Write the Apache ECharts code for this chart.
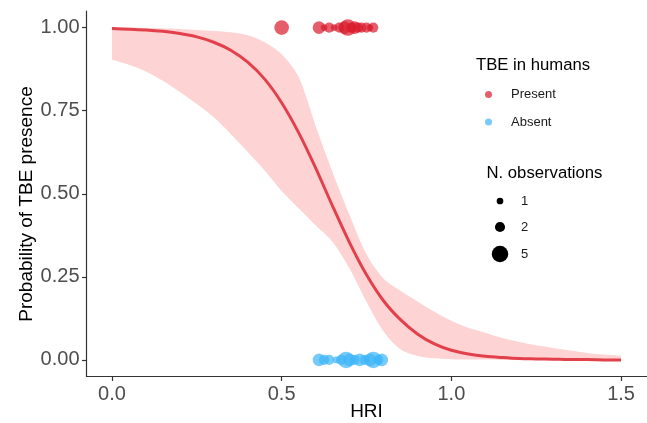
<!DOCTYPE html>
<html>
<head>
<meta charset="utf-8">
<script src="https://cdn.jsdelivr.net/npm/echarts@6.0.0/dist/echarts.min.js"></script>
<style>
  html, body { margin: 0; padding: 0; background: #fff; }
  #chart { width: 647px; height: 423px; }
</style>
</head>
<body>
<div id="chart"></div>
<script>
// HRI grid of the fitted curve
const hri = [0, 0.05, 0.1, 0.15, 0.2, 0.25, 0.3, 0.35, 0.4, 0.45, 0.5, 0.55, 0.6, 0.65, 0.7, 0.75,
             0.8, 0.85, 0.9, 0.95, 1, 1.05, 1.1, 1.15, 1.2, 1.25, 1.3, 1.35, 1.4, 1.45, 1.5];
// fitted probability and its confidence band
const fitProb = [0.997, 0.995, 0.993, 0.989, 0.982, 0.972, 0.956, 0.932, 0.896, 0.845, 0.774, 0.684, 0.578, 0.463, 0.353, 0.256,
                 0.178, 0.121, 0.078, 0.048, 0.029, 0.018, 0.011, 0.007, 0.004, 0.003, 0.002, 0.001, 0.001, 0, 0];
const ciLower = [0.903, 0.888, 0.868, 0.840, 0.806, 0.770, 0.730, 0.680, 0.626, 0.570, 0.508, 0.456, 0.405, 0.355, 0.275, 0.175,
                 0.086, 0.032, 0.012, 0.005, 0.002, 0.001, 0.001, 0, 0, 0, 0, 0, 0, 0, 0];
const ciUpper = [1, 1, 0.999, 0.998, 0.996, 0.993, 0.990, 0.986, 0.977, 0.956, 0.920, 0.852, 0.705, 0.565, 0.436, 0.318,
                 0.245, 0.208, 0.176, 0.145, 0.118, 0.097, 0.082, 0.066, 0.054, 0.044, 0.036, 0.028, 0.021, 0.016, 0.012];

// observations: HRI and number of observations
const presentHri   = [0.50, 0.61, 0.625, 0.64, 0.655, 0.67, 0.685, 0.695, 0.705, 0.715, 0.725, 0.735, 0.75, 0.76, 0.77];
const presentCount = [4, 3, 1, 2, 1, 2, 3, 5, 2, 3, 2, 2, 2, 1, 2];
const absentHri    = [0.61, 0.625, 0.64, 0.66, 0.675, 0.69, 0.70, 0.715, 0.73, 0.745, 0.76, 0.77, 0.785, 0.795];
const absentCount  = [3, 2, 2, 1, 2, 5, 3, 2, 3, 2, 3, 5, 2, 3];

const xTicks = [0, 0.5, 1, 1.5];
const yTicks = [0, 0.25, 0.5, 0.75, 1];
const sizeLegend = [1, 2, 5];

const FONT = '"Liberation Sans", Arial, sans-serif';
const sizeOf = n => Math.sqrt(57 * n - 12);

const chart = echarts.init(document.getElementById('chart'));

// band drawn as a stacked area: data kept as [prob, hri] so the stack runs on y
const bandLow = hri.map((x, i) => [ciLower[i], x]);
const bandWidth = hri.map((x, i) => [ciUpper[i] - ciLower[i], x]);

// legend for the point sizes
const sizeRows = [201, 227, 254];
const sizeItems = [];
sizeLegend.forEach((n, i) => {
    sizeItems.push({ type: 'circle', id: 'sz' + n, shape: { cx: 500, cy: sizeRows[i], r: sizeOf(n) / 2 }, style: { fill: '#000' } });
    sizeItems.push({ type: 'text', id: 'szt' + n, x: 521, y: sizeRows[i],
        style: { text: String(n), fontSize: 13, fill: '#1a1a1a', fontFamily: FONT, verticalAlign: 'middle' } });
});

chart.setOption({
    animation: false,
    textStyle: { fontFamily: FONT },
    grid: { left: 86.5, right: 0.5, top: 11, bottom: 46.5, containLabel: false, outerBoundsMode: 'none' },
    xAxis: {
        type: 'value',
        min: -0.075,
        max: 1.575,
        name: 'HRI',
        nameLocation: 'middle',
        nameGap: 26,
        nameMoveOverlap: false,
        nameTextStyle: { fontSize: 19, color: '#000', fontFamily: FONT },
        axisLine: { onZero: false, lineStyle: { color: '#333', width: 1.2 } },
        axisTick: { customValues: xTicks, length: 4.5, lineStyle: { color: '#333', width: 1.2 } },
        axisLabel: { customValues: xTicks, formatter: v => v.toFixed(1), fontSize: 20, color: '#4d4d4d', margin: 8 },
        splitLine: { show: false }
    },
    yAxis: {
        type: 'value',
        min: -0.05,
        max: 1.05,
        axisLine: { onZero: false, lineStyle: { color: '#333', width: 1.2 } },
        axisTick: { customValues: yTicks, length: 4.5, lineStyle: { color: '#333', width: 1.2 } },
        axisLabel: { customValues: yTicks, formatter: v => v.toFixed(2), fontSize: 20, color: '#4d4d4d', margin: 7 },
        splitLine: { show: false }
    },
    legend: {
        data: ['Present', 'Absent'],
        orient: 'vertical',
        left: 485,
        top: 88,
        padding: 0,
        icon: 'circle',
        itemWidth: 7,
        itemHeight: 7,
        itemGap: 14.5,
        textStyle: { fontSize: 13, color: '#1a1a1a', padding: [0, 0, 0, 14], fontFamily: FONT }
    },
    graphic: {
        elements: [
            { type: 'text', id: 'ytitle', x: 27, y: 204, rotation: Math.PI / 2,
              style: { text: 'Probability of TBE presence', fontSize: 19, fill: '#000', fontFamily: FONT, align: 'center', verticalAlign: 'middle' } },
            { type: 'text', id: 'colTitle', x: 476, y: 65,
              style: { text: 'TBE in humans', fontSize: 16.7, fill: '#000', fontFamily: FONT, verticalAlign: 'middle' } },
            { type: 'text', id: 'sizeTitle', x: 486.5, y: 173,
              style: { text: 'N. observations', fontSize: 16.7, fill: '#000', fontFamily: FONT, verticalAlign: 'middle' } }
        ].concat(sizeItems)
    },
    series: [
        {
            name: 'ciLow',
            type: 'line',
            data: bandLow,
            encode: { x: 1, y: 0 },
            stack: 'band',
            smooth: 0.3,
            symbol: 'none',
            lineStyle: { opacity: 0 },
            silent: true
        },
        {
            name: 'ciBand',
            type: 'line',
            data: bandWidth,
            encode: { x: 1, y: 0 },
            stack: 'band',
            smooth: 0.3,
            symbol: 'none',
            lineStyle: { opacity: 0 },
            areaStyle: { color: '#fdd3d3', opacity: 1 },
            silent: true
        },
        {
            name: 'fit',
            type: 'line',
            data: hri.map((x, i) => [x, fitProb[i]]),
            smooth: 0.3,
            symbol: 'none',
            lineStyle: { color: '#e2414c', width: 3 },
            z: 3
        },
        {
            name: 'Present',
            type: 'scatter',
            data: presentHri.map((x, i) => [x, 1, presentCount[i]]),
            symbolSize: d => sizeOf(d[2]),
            itemStyle: { color: '#d81b2c', opacity: 0.7 },
            z: 4
        },
        {
            name: 'Absent',
            type: 'scatter',
            data: absentHri.map((x, i) => [x, 0, absentCount[i]]),
            symbolSize: d => sizeOf(d[2]),
            itemStyle: { color: '#3db5f8', opacity: 0.7 },
            z: 4
        }
    ]
});
</script>
</body>
</html>
